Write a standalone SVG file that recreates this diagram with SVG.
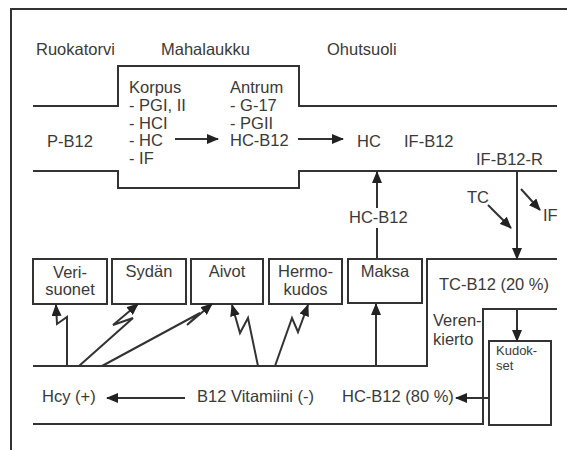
<svg xmlns="http://www.w3.org/2000/svg" width="567" height="450" viewBox="0 0 567 450">
<defs>
<style>
text{font-family:"Liberation Sans",Arial,sans-serif;font-size:16.5px;fill:#3a3a3a}
.s{font-size:13px}
.m{text-anchor:middle}
.ln{fill:none;stroke:#333;stroke-width:2}
.bx{fill:#fff;stroke:#333;stroke-width:2}
.ar{fill:none;stroke:#333;stroke-width:2;marker-end:url(#ah)}
</style>
<marker id="ah" markerUnits="userSpaceOnUse" markerWidth="12" markerHeight="10" refX="11" refY="5" orient="auto" viewBox="0 0 12 10">
<path d="M0,0 L12,5 L0,10 Z" fill="#222"/>
</marker>
</defs>
<rect width="567" height="450" fill="#fff"/>
<g id="frame">
<path class="ln" d="M11,450 L11,9 L567,9" stroke-width="1.5"/>
</g>
<g id="tube">
<path class="ln" d="M33,106 L118,106 L118,66 L299,66 L299,106 L557,106"/>
<path class="ln" d="M33,171 L118,171 L118,188 L299,188 L299,171 L557,171"/>
<path class="ln" d="M557,259 L427,259 L427,366 L33,366"/>
<path class="ln" d="M557,309 L483,309 L483,424 L33,424"/>
</g>
<g id="labels">
<text x="36" y="55">Ruokatorvi</text>
<text x="161" y="55">Mahalaukku</text>
<text x="327" y="55">Ohutsuoli</text>
<text x="47" y="147">P-B12</text>
<text x="357" y="147">HC</text>
<text x="404" y="147">IF-B12</text>
<text x="476" y="165">IF-B12-R</text>
<text x="467" y="203">TC</text>
<text x="543" y="221">IF</text>
<text x="349" y="223">HC-B12</text>
<text x="439" y="290">TC-B12 (20 %)</text>
<text x="433" y="326">Veren-</text>
<text x="433" y="345">kierto</text>
<text x="42" y="402">Hcy (+)</text>
<text x="197" y="402">B12 Vitamiini (-)</text>
<text x="342" y="402">HC-B12 (80 %)</text>
</g>
<g id="korpus">
<text x="129" y="93">Korpus</text>
<text x="129" y="111">- PGI, II</text>
<text x="129" y="129">- HCI</text>
<text x="129" y="146">- HC</text>
<text x="129" y="164">- IF</text>
</g>
<g id="antrum">
<text x="230" y="93">Antrum</text>
<text x="230" y="111">- G-17</text>
<text x="230" y="129">- PGII</text>
<text x="230" y="146">HC-B12</text>
</g>
<g id="verisuonet">
<rect class="bx" x="33" y="259" width="74" height="45"/>
<text class="m" x="70" y="278">Veri-</text>
<text class="m" x="70" y="295">suonet</text>
</g>
<g id="sydan">
<rect class="bx" x="112" y="259" width="74" height="45"/>
<text class="m" x="149" y="277">Sydän</text>
</g>
<g id="aivot">
<rect class="bx" x="191" y="259" width="72" height="45"/>
<text class="m" x="227" y="277">Aivot</text>
</g>
<g id="hermokudos">
<rect class="bx" x="269" y="259" width="73" height="45"/>
<text class="m" x="305.5" y="277">Hermo-</text>
<text class="m" x="305.5" y="295">kudos</text>
</g>
<g id="maksa">
<rect class="bx" x="348" y="259" width="74" height="44"/>
<text class="m" x="385" y="277">Maksa</text>
</g>
<g id="kudokset">
<rect class="bx" x="489" y="341" width="62" height="84"/>
<text class="s" x="496" y="355">Kudok-</text>
<text class="s" x="496" y="370">set</text>
</g>
<g id="connectors">
<path class="ar" d="M175,139 L218,139"/>
<path class="ar" d="M298,139 L343,139"/>
<path class="ln" d="M377,259 L377,228"/>
<path class="ar" d="M377,208 L377,172"/>
<path class="ar" d="M517,171 L517,259"/>
<path class="ar" d="M488,205 L511,228"/>
<path class="ar" d="M521,189 L540,210"/>
<path class="ar" d="M517,309 L517,341"/>
<path class="ar" d="M489,398 L456,398"/>
<path class="ar" d="M185,398 L107,398"/>
<path class="ar" d="M376,366 L376,304"/>
<path class="ar" d="M67,366 L67,317 L57,324 L56,305"/>
<path class="ar" d="M79,366 L133,318 L113,325 L138,304"/>
<path class="ar" d="M102,366 L200,313 L187,325 L212,304"/>
<path class="ar" d="M258,366 L248,318 L240,333 L232,305"/>
<path class="ar" d="M275,366 L292,318 L298,332 L308,305"/>
</g>
</svg>
